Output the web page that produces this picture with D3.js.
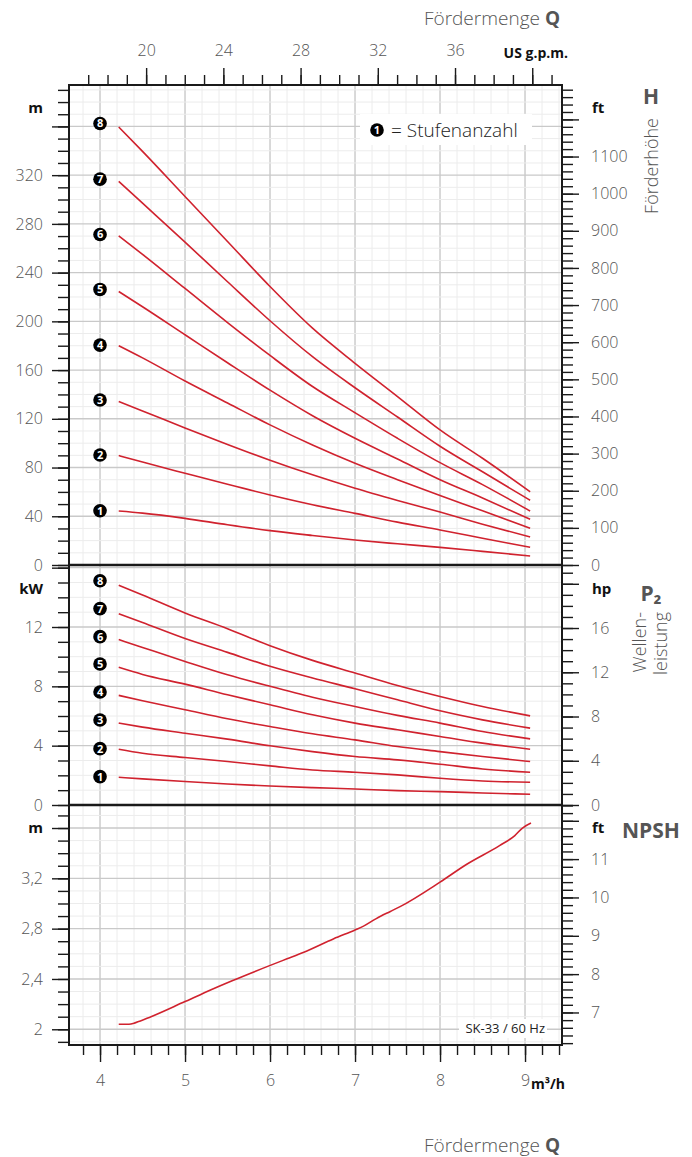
<!DOCTYPE html>
<html lang="de">
<head>
<meta charset="UTF-8">
<title>SK-33 / 60 Hz Kennlinie</title>
<script src="https://cdn.jsdelivr.net/npm/d3@7/dist/d3.min.js"></script>
<style>
    body { margin: 0; background: #fff; }
    text { font-family: "Open Sans", "DejaVu Sans", sans-serif; }
</style>
</head>
<body>
<div id="chart"></div>
<script>
    // Förderstrom-Stützstellen (m³/h)
    const qPts = [4.22, 4.5, 5, 5.5, 6, 6.5, 7, 7.5, 8, 8.5, 9.06];

    // Förderhöhe H (m) je Stufenanzahl 1..8
    const head1 = [44.3, 42.6, 38.3, 33.0, 28.2, 24.2, 20.5, 17.4, 14.5, 11.2, 7.4];
    const head2 = [89.8, 84.5, 75.3, 66.2, 57.5, 49.5, 42.4, 35.2, 28.7, 22.0, 14.5];
    const head3 = [134.2, 126.5, 112.5, 99.0, 86.0, 74.0, 63.0, 53.0, 43.5, 33.5, 23.0];
    const head4 = [180.0, 170.0, 151.0, 133.0, 115.0, 98.5, 83.5, 70.0, 57.0, 44.5, 30.1];
    const head5 = [224.5, 212.0, 189.0, 166.0, 143.5, 122.5, 104.0, 87.0, 70.0, 55.0, 37.5];
    const head6 = [270.2, 255.0, 227.0, 199.0, 172.0, 146.5, 125.0, 104.0, 84.0, 66.0, 44.3];
    const head7 = [314.9, 297.0, 265.0, 232.5, 200.5, 171.0, 145.5, 121.5, 97.5, 76.5, 53.1];
    const head8 = [359.5, 339.5, 302.5, 265.6, 228.6, 194.4, 165.6, 138.3, 110.9, 87.6, 60.1];

    // Wellenleistung P2 (kW) je Stufenanzahl 1..8
    const power1 = [1.87, 1.76, 1.58, 1.42, 1.28, 1.17, 1.08, 0.97, 0.90, 0.81, 0.72];
    const power2 = [3.76, 3.49, 3.20, 2.93, 2.64, 2.36, 2.21, 2.03, 1.80, 1.62, 1.53];
    const power3 = [5.52, 5.25, 4.84, 4.44, 3.99, 3.60, 3.27, 3.04, 2.75, 2.43, 2.21];
    const power4 = [7.39, 7.03, 6.42, 5.81, 5.29, 4.80, 4.39, 3.94, 3.60, 3.27, 2.93];
    const power5 = [9.28, 8.80, 8.15, 7.43, 6.76, 6.08, 5.52, 5.07, 4.62, 4.17, 3.76];
    const power6 = [11.15, 10.62, 9.68, 8.78, 8.00, 7.27, 6.64, 6.04, 5.52, 4.95, 4.46];
    const power7 = [12.90, 12.30, 11.22, 10.29, 9.35, 8.56, 7.84, 7.09, 6.35, 5.74, 5.18];
    const power8 = [14.82, 14.16, 12.95, 11.89, 10.74, 9.75, 8.90, 8.06, 7.32, 6.64, 6.01];

    // NPSH (m)
    const npshQ = [4.22, 4.34, 4.42, 4.6, 5.0, 5.1, 5.26, 5.57, 6.01, 6.2, 6.39, 6.75, 7.0, 7.1, 7.25, 7.41, 7.53, 8.0, 8.31, 8.7, 8.88, 8.97, 9.07];
    const npshVal = [2.04, 2.04, 2.053, 2.10, 2.22, 2.25, 2.30, 2.39, 2.51, 2.56, 2.61, 2.72, 2.79, 2.82, 2.88, 2.935, 2.975, 3.17, 3.31, 3.46, 3.54, 3.60, 3.64];

    // Stufenmarken (Kreisnummern) bei Q = 4
    const stages = [1, 2, 3, 4, 5, 6, 7, 8];
    const stageMarkH = [44.5, 90.3, 135.4, 180.5, 226.2, 271.3, 316.7, 362.4];
    const stageMarkP = [1.91, 3.80, 5.73, 7.62, 9.51, 11.35, 13.24, 15.12];

    // Achsenbeschriftungen
    const qTicks = [4, 5, 6, 7, 8, 9];
    const gpmTicks = [20, 24, 28, 32, 36];
    const headTicks = [0, 40, 80, 120, 160, 200, 240, 280, 320];
    const headFtTicks = [0, 100, 200, 300, 400, 500, 600, 700, 800, 900, 1000, 1100];
    const powerTicks = [0, 4, 8, 12];
    const powerHpTicks = [0, 4, 8, 12, 16];
    const npshTicks = [2, 2.4, 2.8, 3.2];
    const npshFtTicks = [7, 8, 9, 10, 11];

    const headSeries = [head1, head2, head3, head4, head5, head6, head7, head8];
    const powerSeries = [power1, power2, power3, power4, power5, power6, power7, power8];

    const W = 692, H = 1157;
    const left = 69, right = 562;
    const plotTop = 85, plotBottom = 1045;
    const FT = 0.3048, HP = 0.7457, GPM = 4.4029;
    const red = "#d0222e", grey = "#555", dark = "#1a1a1a";

    const svg = d3.select("#chart").append("svg")
        .attr("width", W).attr("height", H);

    const x = d3.scaleLinear().domain([3.635, 9.435]).range([left, right]);

    const panels = [
        {top: 85, bottom: 565, domain: [0, 394], minor: 10, major: 40},
        {top: 565, bottom: 805, domain: [0, 16.18], minor: 1, major: 4},
        {top: 805, bottom: 1045, domain: [1.875, 3.783], minor: 0.1, major: 0.4}
    ];
    panels.forEach(p => {
        p.y = d3.scaleLinear().domain(p.domain).range([p.bottom, p.top]);
    });

    function steps(lo, hi, step) {
        const out = [];
        const n0 = Math.ceil(lo / step - 1e-6), n1 = Math.floor(hi / step + 1e-6);
        for (let i = n0; i <= n1; i++) out.push(+(i * step).toFixed(6));
        return out;
    }
    const isMult = (d, m) => Math.abs(d / m - Math.round(d / m)) < 1e-6;

    // grid
    const grid = svg.append("g");
    const xMinor = steps(3.8, 9.4, 0.2);
    panels.forEach(p => {
        grid.append("g").selectAll("line").data(xMinor).enter().append("line")
            .attr("x1", d => x(d)).attr("x2", d => x(d))
            .attr("y1", p.top).attr("y2", p.bottom)
            .attr("stroke", d => isMult(d, 1) ? "#c9c9c9" : "#ececec")
            .attr("stroke-width", d => isMult(d, 1) ? 1.4 : 1);
        const hv = steps(p.domain[0], p.domain[1], p.minor);
        grid.append("g").selectAll("line").data(hv).enter().append("line")
            .attr("x1", left).attr("x2", right)
            .attr("y1", d => p.y(d)).attr("y2", d => p.y(d))
            .attr("stroke", d => isMult(d, p.major) ? "#c9c9c9" : "#ececec")
            .attr("stroke-width", d => isMult(d, p.major) ? 1.4 : 1);
    });

    // axes
    function styleAxis(g, labels) {
        g.select(".domain").remove();
        g.selectAll(".tick line").attr("stroke", dark).attr("stroke-width", 1.4);
        g.selectAll(".tick text").attr("fill", grey)
            .attr("font-size", 16).attr("font-weight", 300);
        if (!labels) g.selectAll(".tick text").remove();
    }

    const comma = d => String(d).replace(".", ",");

    panels.forEach((p, i) => {
        const minorVals = steps(p.domain[0], p.domain[1], p.minor);
        svg.append("g").attr("transform", `translate(${left},0)`)
            .call(d3.axisLeft(p.y).tickValues(minorVals).tickSize(11).tickSizeOuter(0))
            .call(g => styleAxis(g, false));
        const majorLabels = [headTicks, powerTicks, npshTicks][i];
        const majorVals = steps(p.domain[0], p.domain[1], p.major);
        svg.append("g").attr("transform", `translate(${left},0)`)
            .call(d3.axisLeft(p.y).tickValues(majorVals).tickSize(17).tickSizeOuter(0).tickPadding(9)
                .tickFormat(d => majorLabels.some(v => Math.abs(v - d) < 1e-6) ? comma(d) : ""))
            .call(g => styleAxis(g, true));

        // right unit axis (ft / hp)
        const rs = p.y.copy().domain(p.domain.map(v => v / (i === 1 ? HP : FT)));
        const rStep = i === 0 ? 20 : (i === 1 ? 1 : 0.2);
        const rMajStep = i === 0 ? 100 : (i === 1 ? 4 : 1);
        const rd = rs.domain();
        svg.append("g").attr("transform", `translate(${right},0)`)
            .call(d3.axisRight(rs).tickValues(steps(rd[0], rd[1], rStep)).tickSize(11).tickSizeOuter(0))
            .call(g => styleAxis(g, false));
        const rLabels = [headFtTicks, powerHpTicks, npshFtTicks][i];
        svg.append("g").attr("transform", `translate(${right},0)`)
            .call(d3.axisRight(rs).tickValues(steps(rd[0], rd[1], rMajStep)).tickSize(17).tickSizeOuter(0).tickPadding(12)
                .tickFormat(d => rLabels.includes(d) ? d : ""))
            .call(g => styleAxis(g, true));
    });

    // bottom axis m³/h
    svg.append("g").attr("transform", `translate(0,${plotBottom})`)
        .call(d3.axisBottom(x).tickValues(xMinor).tickSize(10).tickSizeOuter(0))
        .call(g => styleAxis(g, false));
    svg.append("g").attr("transform", `translate(0,${plotBottom})`)
        .call(d3.axisBottom(x).tickValues(qTicks).tickSize(17).tickSizeOuter(0).tickPadding(13).tickFormat(d => d))
        .call(g => styleAxis(g, true));

    // top axis US g.p.m.
    const xg = x.copy().domain(x.domain().map(v => v * GPM));
    svg.append("g").attr("transform", `translate(0,${plotTop})`)
        .call(d3.axisTop(xg).tickValues(d3.range(17, 42)).tickSize(10).tickSizeOuter(0))
        .call(g => styleAxis(g, false));
    svg.append("g").attr("transform", `translate(0,${plotTop})`)
        .call(d3.axisTop(xg).tickValues([20, 24, 28, 32, 36, 40]).tickSize(17).tickSizeOuter(0).tickPadding(12)
            .tickFormat(d => gpmTicks.includes(d) ? d : ""))
        .call(g => styleAxis(g, true));

    // frame
    svg.append("rect").attr("x", left).attr("y", plotTop)
        .attr("width", right - left).attr("height", plotBottom - plotTop)
        .attr("fill", "none").attr("stroke", dark).attr("stroke-width", 2);
    [565, 805].forEach(yv => svg.append("line")
        .attr("x1", left).attr("x2", right).attr("y1", yv).attr("y2", yv)
        .attr("stroke", dark).attr("stroke-width", 2.4));

    // curves
    const curves = svg.append("g");
    const lineFor = ys => d3.line().x(d => x(d[0])).y(d => ys(d[1])).curve(d3.curveMonotoneX);
    headSeries.forEach(s => curves.append("path")
        .attr("d", lineFor(panels[0].y)(qPts.map((q, k) => [q, s[k]])))
        .attr("fill", "none").attr("stroke", red).attr("stroke-width", 1.6));
    powerSeries.forEach(s => curves.append("path")
        .attr("d", lineFor(panels[1].y)(qPts.map((q, k) => [q, s[k]])))
        .attr("fill", "none").attr("stroke", red).attr("stroke-width", 1.6));
    curves.append("path")
        .attr("d", lineFor(panels[2].y)(npshQ.map((q, k) => [q, npshVal[k]])))
        .attr("fill", "none").attr("stroke", red).attr("stroke-width", 1.6);

    // stage markers
    function marker(g, cx, cy, n) {
        g.append("circle").attr("cx", cx).attr("cy", cy).attr("r", 6.8).attr("fill", "#000");
        g.append("text").attr("x", cx).attr("y", cy + 4).attr("text-anchor", "middle")
            .attr("fill", "#fff").attr("font-size", 11).attr("font-weight", 700).text(n);
    }
    const marks = svg.append("g");
    stages.forEach((n, k) => {
        marker(marks, x(4), panels[0].y(stageMarkH[k]), n);
        marker(marks, x(4), panels[1].y(stageMarkP[k]), n);
    });

    // legend
    svg.append("rect").attr("x", 360).attr("y", 114).attr("width", 172).attr("height", 31).attr("fill", "#fff");
    marker(svg, 377, 130, 1);
    svg.append("text").attr("x", 391).attr("y", 137).attr("font-size", 19).attr("font-weight", 300)
        .attr("fill", "#222").text("= Stufenanzahl");

    // unit labels
    const unit = (xx, yy, t, anchor) => svg.append("text").attr("x", xx).attr("y", yy)
        .attr("text-anchor", anchor).attr("font-size", 15).attr("font-weight", 700)
        .attr("fill", "#111").text(t);
    unit(43, 113, "m", "end");
    unit(592, 113, "ft", "start");
    unit(43, 594, "kW", "end");
    unit(592, 594, "hp", "start");
    unit(43, 833, "m", "end");
    unit(592, 833, "ft", "start");

    // Q unit labels
    svg.append("text").attr("x", 568).attr("y", 58).attr("text-anchor", "end")
        .attr("font-size", 14).attr("font-weight", 700).attr("fill", "#111").text("US g.p.m.");
    svg.append("text").attr("x", 531).attr("y", 1089)
        .attr("font-size", 14).attr("font-weight", 700).attr("fill", "#111").text("m³/h");

    // axis titles
    function qTitle(yy) {
        const t = svg.append("text").attr("x", 560).attr("y", yy).attr("text-anchor", "end")
            .attr("font-size", 19).attr("fill", grey).attr("font-weight", 300);
        t.append("tspan").text("Fördermenge ");
        t.append("tspan").attr("font-weight", 700).text("Q");
    }
    qTitle(25);
    qTitle(1152);

    const bigTitle = (xx, yy, t) => svg.append("text").attr("x", xx).attr("y", yy)
        .attr("text-anchor", "middle").attr("font-size", 21).attr("font-weight", 700)
        .attr("fill", grey).text(t);
    bigTitle(651, 104, "H");
    bigTitle(651, 601, "P₂");
    bigTitle(651, 838, "NPSH");

    const vTitle = (xx, yy, t) => svg.append("text")
        .attr("transform", `translate(${xx},${yy}) rotate(-90)`)
        .attr("text-anchor", "end").attr("font-size", 18).attr("font-weight", 300)
        .attr("fill", grey).text(t);
    vTitle(658, 118, "Förderhöhe");
    vTitle(646, 612, "Wellen-");
    vTitle(667, 612, "leistung");

    // model label
    svg.append("rect").attr("x", 459).attr("y", 1019).attr("width", 88).attr("height", 19).attr("fill", "#fff");
    svg.append("text").attr("x", 545).attr("y", 1033).attr("text-anchor", "end")
        .attr("font-size", 13).attr("fill", "#222").text("SK-33 / 60 Hz");
</script>
</body>
</html>
